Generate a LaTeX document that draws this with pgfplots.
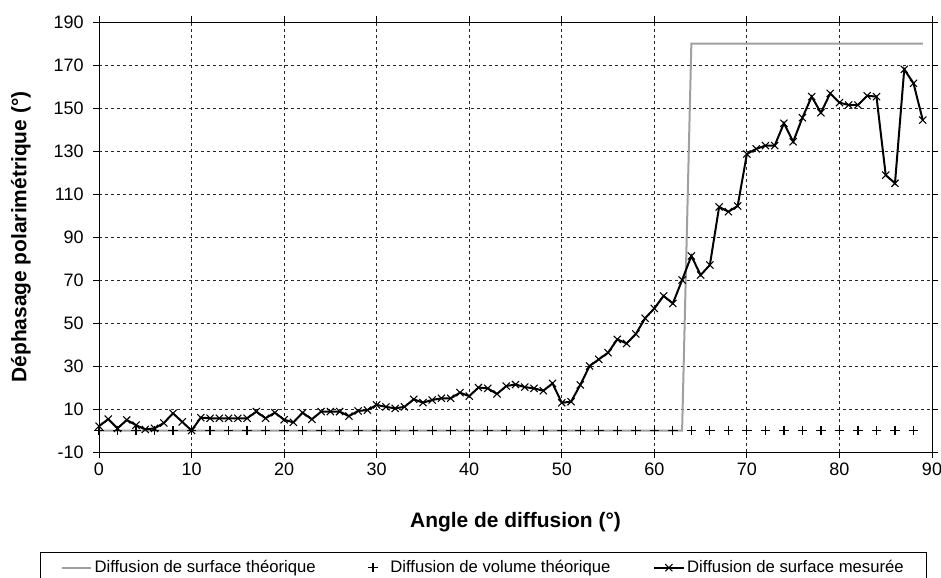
\documentclass[border=0pt]{standalone}
\usepackage{pgfplots}
\pgfplotsset{compat=1.18}
\usepackage{fontspec}
\setmainfont{Liberation Sans}

\definecolor{theo}{RGB}{160,160,160}

% legend samples of one fixed width
\pgfplotsset{
  fixedlegend/.style={
    legend image code/.code={
      \path[draw=none, fill=none] (0pt,0pt) -- (22pt,0pt);
      \draw[mark repeat=2, mark phase=2, ##1]
        plot coordinates {(0pt,0pt) (11pt,0pt) (22pt,0pt)};
    }
  },
  marklegend/.style={
    legend image code/.code={
      \path[draw=none, fill=none] (0pt,0pt) -- (22pt,0pt);
      \draw[##1] plot coordinates {(11pt,0pt)};
    }
  }
}

\begin{document}
\begin{tikzpicture}
  \begin{axis}[
      name=ax,
      scale only axis,
      width=624.75pt,
      height=322.5pt,
      xmin=0, xmax=90,
      ymin=-10, ymax=190,
      xtick={0,10,...,90},
      ytick={-10,10,...,190},
      tick align=outside,
      major tick length=4.5pt,
      tick style={black, line width=0.75pt},
      axis line style={black, line width=0.75pt},
      grid=major,
      major grid style={black!85, line width=0.7pt, dash pattern=on 2.25pt off 2.25pt},
      tick label style={font=\fontsize{13.5}{16}\selectfont},
      yticklabel style={xshift=-3.5pt},
      /pgf/number format/assume math mode=true,
      xlabel={Angle de diffusion (°)},
      ylabel={Déphasage polarimétrique (°)},
      label style={font=\fontsize{15.7}{19}\selectfont\bfseries},
      xlabel style={at={(axis description cs:0.5,-0.163)}, anchor=center},
      ylabel style={at={(axis description cs:-0.0936,0.5)}, anchor=center},
      legend columns=3,
      legend cell align=left,
      legend style={
        at={(axis description cs:-0.0708,-0.2326)}, anchor=north west,
        draw=black, line width=0.75pt,
        font=\fontsize{12.5}{15}\selectfont,
        inner xsep=15pt, inner ysep=4pt,
        /tikz/every even column/.append style={column sep=30pt},
      },
      fixedlegend,
      clip=false,
    ]
    \addplot[theo, line width=1.5pt, no marks]
      coordinates {(0,0) (63,0) (64,180) (89,180)};
    \addlegendentry{Diffusion de surface théorique}

    \addplot[black, only marks, mark=+, mark size=3.6pt, mark options={line width=0.9pt}, marklegend]
      coordinates {
        (0,0) (2,0) (4,0) (6,0) (8,0) (10,0) (12,0) (14,0) (16,0) (18,0)
        (20,0) (22,0) (24,0) (26,0) (28,0) (30,0) (32,0) (34,0) (36,0) (38,0)
        (40,0) (42,0) (44,0) (46,0) (48,0) (50,0) (52,0) (54,0) (56,0) (58,0)
        (60,0) (62,0) (64,0) (66,0) (68,0) (70,0) (72,0) (74,0) (76,0) (78,0)
        (80,0) (82,0) (84,0) (86,0) (88,0)
      };
    \addlegendentry{Diffusion de volume théorique}

    \addplot[black, line width=1.5pt, mark=x, mark size=3.8pt,
      mark options={line width=0.8pt, solid}]
      coordinates {
        (0,2) (1,5.3) (2,1) (3,4.9) (4,2.5) (5,0.5) (6,1) (7,3.5) (8,8) (9,4)
        (10,0) (11,6) (12,5.7) (13,5.7) (14,5.7) (15,5.7) (16,5.7) (17,8.8) (18,5.7) (19,8.3)
        (20,5) (21,3.8) (22,8.3) (23,5.2) (24,8.8) (25,8.8) (26,8.8) (27,6.7) (28,9.1) (29,9.5)
        (30,11.9) (31,11) (32,10.3) (33,11) (34,14.5) (35,13) (36,14.2) (37,15) (38,15) (39,17.6)
        (40,16) (41,20) (42,19.6) (43,17) (44,20.7) (45,21.4) (46,20.2) (47,19.6) (48,18.5) (49,21.9)
        (50,12.9) (51,13.4) (52,21.2) (53,30) (54,33.1) (55,36.2) (56,42.4) (57,40.5) (58,44.9) (59,52.2)
        (60,56.8) (61,62.6) (62,59.1) (63,70) (64,81.2) (65,72.3) (66,77) (67,104) (68,101.8) (69,104.4)
        (70,128.6) (71,131) (72,132.5) (73,132.5) (74,142.9) (75,134.3) (76,145.5) (77,155.3) (78,147.8) (79,156.8)
        (80,152.5) (81,151.4) (82,151.4) (83,155.7) (84,155.3) (85,118.8) (86,115) (87,168) (88,161.5) (89,144.4)
      };
    \addlegendentry{Diffusion de surface mesurée}

    \coordinate (bbsw) at (rel axis cs:-0.11885,-0.2907);
    \coordinate (bbne) at (rel axis cs:1.0108,1.0512);
  \end{axis}
  \pgfresetboundingbox
  \path[use as bounding box] (bbsw) rectangle (bbne);
\end{tikzpicture}
\end{document}
